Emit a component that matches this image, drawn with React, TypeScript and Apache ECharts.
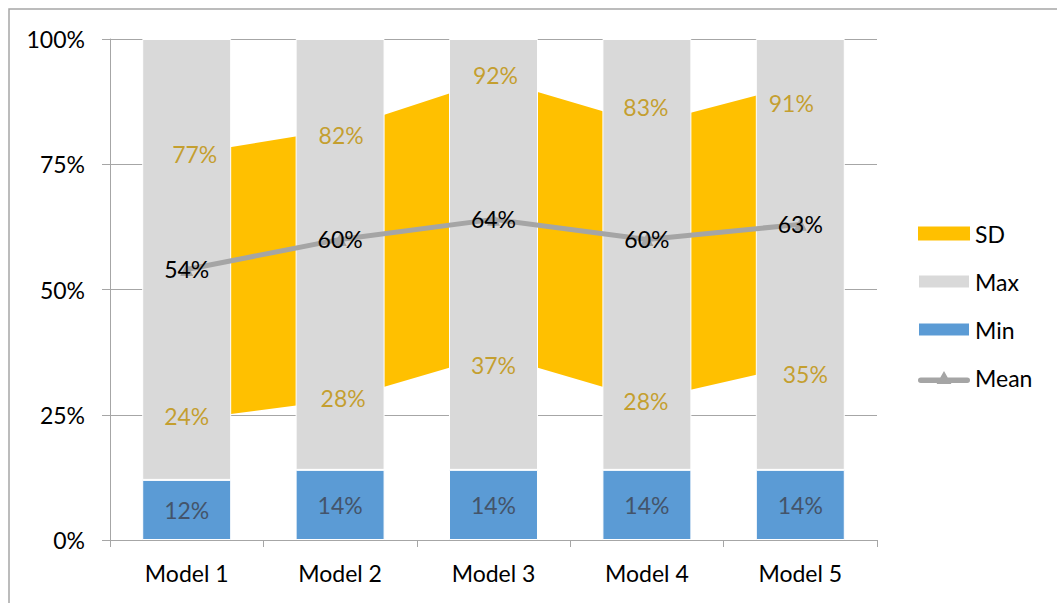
import React, { useEffect, useRef } from "react";
import * as echarts from "echarts";

const categories = ["Model 1", "Model 2", "Model 3", "Model 4", "Model 5"];
const minValues = [12, 14, 14, 14, 14];
const maxSegment = [88, 86, 86, 86, 86];
const meanValues = [54, 60, 64, 60, 63];
const sdUpper = [77, 82, 92, 83, 91];
const sdLower = [24, 28, 37, 28, 35];

const upperLabelOffset = [[8, 0], [1, 6], [2, -4], [-1, -17], [-9, 19]];
const lowerLabelOffset = [[0, -4], [3, -2], [0, 10], [-1, 1], [5, 9]];

const FONT = "Lato";
const FS = 23;

const MEAN_ICON =
  "path://M3,7 L53,7 A3,3 0 0 1 53,13 L3,13 A3,3 0 0 1 3,7 Z M20,14 L28,0 L36,14 Z";

export default function App() {
  const ref = useRef<HTMLDivElement>(null);
  useEffect(() => {
    if (!ref.current) return;
    const chart = echarts.init(ref.current, null, { renderer: "svg" });
    const sdBand = sdUpper.map((u, i) => u - sdLower[i]);
    const option: any = {
      animation: false,
      textStyle: { fontFamily: FONT, fontSize: FS, color: "#000" },
      graphic: [
        {
          type: "rect",
          shape: { x: 9, y: 9, width: 1300, height: 900 },
          style: { fill: "none", stroke: "#A6A6A6", lineWidth: 1.5 },
          silent: true,
        },
      ],
      grid: { left: 110, right: 180, top: 39, bottom: 63, containLabel: false },
      legend: {
        orient: "vertical",
        left: 912,
        top: 217,
        padding: 5,
        itemWidth: 52,
        itemHeight: 14,
        itemGap: 25,
        textStyle: { fontFamily: FONT, fontSize: FS, color: "#000", lineHeight: 22 },
        data: [
          { name: "SD", icon: "rect" },
          { name: "Max", icon: "rect" },
          { name: "Min", icon: "rect" },
          { name: "Mean", icon: MEAN_ICON, itemStyle: { color: "#A5A5A5" } },
        ],
      },
      xAxis: {
        type: "category",
        data: categories,
        boundaryGap: true,
        axisLine: { show: true, lineStyle: { color: "#A6A6A6", width: 1 } },
        axisTick: { show: true, length: 7, lineStyle: { color: "#A6A6A6" } },
        axisLabel: { margin: 21, fontFamily: FONT, fontSize: FS, color: "#000" },
      },
      yAxis: {
        type: "value",
        min: 0,
        max: 100,
        interval: 25,
        axisLine: { show: true, lineStyle: { color: "#A6A6A6", width: 1 } },
        axisTick: { show: true, length: 8, lineStyle: { color: "#A6A6A6" } },
        splitLine: { show: true, lineStyle: { color: "#A6A6A6", width: 1 } },
        axisLabel: {
          margin: 25,
          formatter: "{value}%",
          fontFamily: FONT,
          fontSize: FS,
          color: "#000",
        },
      },
      series: [
        {
          name: "sdBase",
          type: "line",
          stack: "sd",
          data: sdLower,
          symbol: "none",
          lineStyle: { width: 0, opacity: 0 },
          z: 1,
          silent: true,
        },
        {
          name: "SD",
          type: "line",
          stack: "sd",
          data: sdBand,
          symbol: "none",
          itemStyle: { color: "#FFC000" },
          lineStyle: { width: 0, opacity: 0 },
          areaStyle: { color: "#FFC000", opacity: 1 },
          z: 1,
        },
        {
          name: "Min",
          type: "bar",
          stack: "bar",
          barWidth: "58%",
          data: minValues,
          itemStyle: { color: "#5B9BD5", borderColor: "#fff", borderWidth: 1 },
          label: {
            show: true,
            position: "inside",
            formatter: "{c}%",
            fontFamily: FONT,
            fontSize: FS,
            color: "#44546A",
          },
          z: 2,
        },
        {
          name: "Max",
          type: "bar",
          stack: "bar",
          barWidth: "58%",
          data: maxSegment,
          itemStyle: { color: "#D9D9D9", borderColor: "#fff", borderWidth: 1 },
          z: 2,
        },
        {
          name: "Mean",
          type: "line",
          data: meanValues,
          symbol: "triangle",
          symbolSize: 13,
          itemStyle: { color: "#A5A5A5" },
          lineStyle: { color: "#A5A5A5", width: 5 },
          label: {
            show: true,
            position: "inside",
            formatter: "{c}%",
            fontFamily: FONT,
            fontSize: FS,
            color: "#000",
          },
          z: 3,
        },
        {
          name: "upperLabels",
          type: "scatter",
          symbolSize: 1,
          itemStyle: { color: "rgba(0,0,0,0)" },
          data: sdUpper.map((v, i) => ({
            value: v,
            label: { offset: upperLabelOffset[i] },
          })),
          label: {
            show: true,
            position: "inside",
            formatter: "{c}%",
            fontFamily: FONT,
            fontSize: FS,
            color: "#BF9000",
          },
          z: 4,
          silent: true,
        },
        {
          name: "lowerLabels",
          type: "scatter",
          symbolSize: 1,
          itemStyle: { color: "rgba(0,0,0,0)" },
          data: sdLower.map((v, i) => ({
            value: v,
            label: { offset: lowerLabelOffset[i] },
          })),
          label: {
            show: true,
            position: "inside",
            formatter: "{c}%",
            fontFamily: FONT,
            fontSize: FS,
            color: "#BF9000",
          },
          z: 4,
          silent: true,
        },
      ],
    };
    chart.setOption(option);
    return () => chart.dispose();
  }, []);
  return (
    <div
      ref={ref}
      style={{ position: "absolute", left: 0, top: 0, width: 1057, height: 603 }}
    />
  );
}
